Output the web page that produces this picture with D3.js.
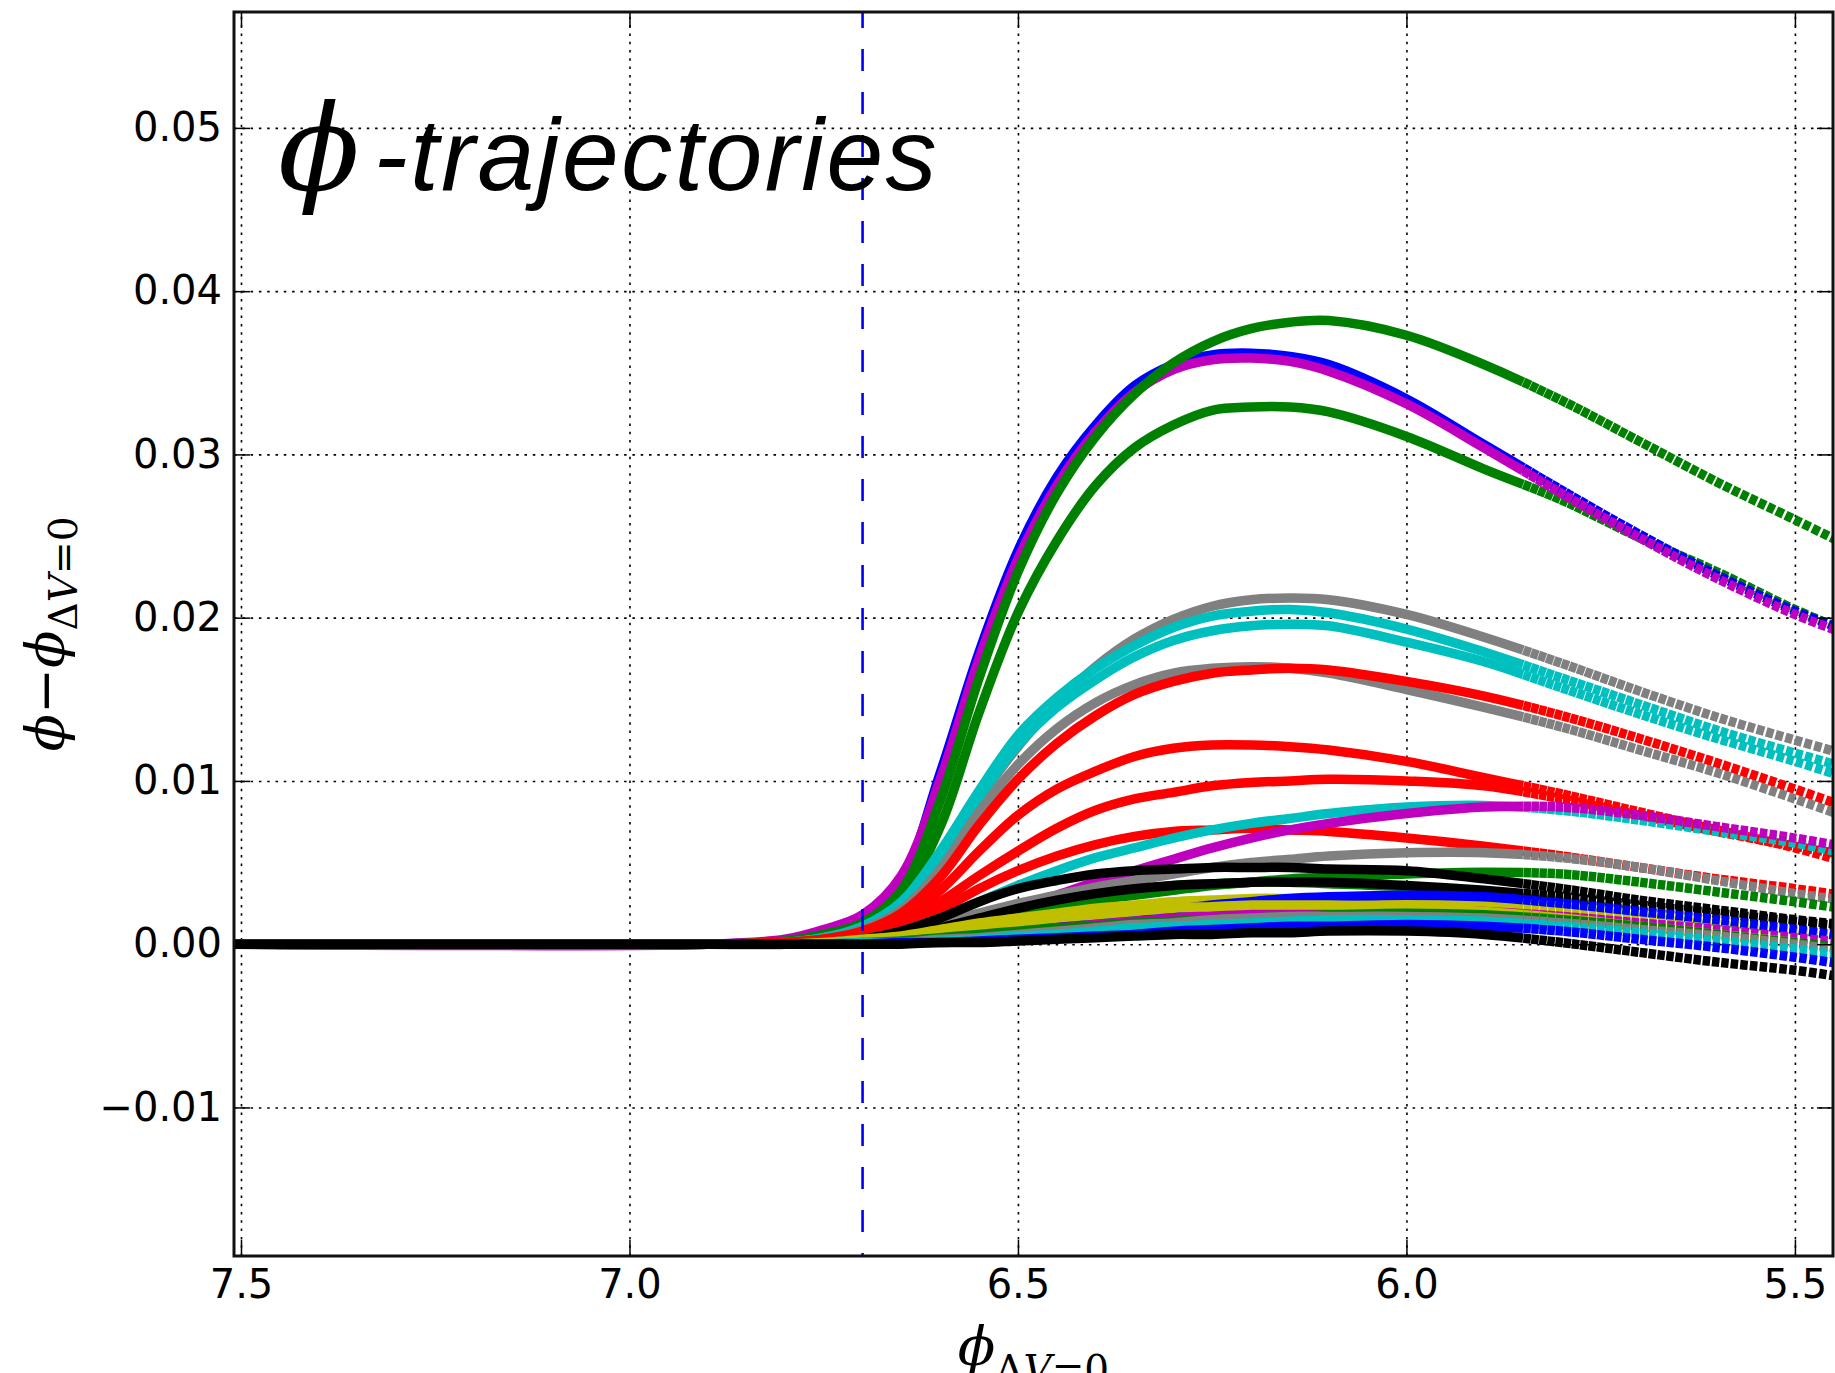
<!DOCTYPE html>
<html>
<head>
<meta charset="utf-8">
<script src="https://cdn.jsdelivr.net/npm/d3@7"></script>
<style>
  html, body { margin: 0; padding: 0; background: #fff; }
  svg { display: block; }
</style>
</head>
<body>
<svg id="chart" width="1835" height="1373"></svg>
<script>
// sample positions along phi_{dV=0} (x runs right to left, 7.5 -> 5.5)
var phiGrid = [7.52, 6.9, 6.8, 6.75, 6.7, 6.65, 6.6, 6.55, 6.5, 6.45, 6.4, 6.35, 6.3, 6.25, 6.2, 6.15, 6.1, 6.0, 5.9, 5.8, 5.7, 5.6, 5.5, 5.44];
var xTicks = [7.5, 7.0, 6.5, 6.0, 5.5];
var yTicks = [-0.01, 0, 0.01, 0.02, 0.03, 0.04, 0.05];
var xDomain = [7.509, 5.451];
var yDomain = [-0.0191, 0.0571];
var crossing = 6.70;
var dottedFrom = 5.85;

// phi - phi_{dV=0} for each trajectory
var green2  = [0, 0, 0.0001, 0.0004, 0.0009, 0.0028, 0.0072, 0.0142, 0.0203, 0.0247, 0.0281, 0.0304, 0.0318, 0.0327, 0.0329, 0.0329, 0.0326, 0.0311, 0.0291, 0.0272, 0.0249, 0.0228, 0.0205, 0.0193];
var blue1   = [0, 0, 0.0002, 0.0007, 0.0016, 0.0039, 0.0105, 0.0179, 0.0241, 0.0286, 0.0318, 0.0342, 0.0355, 0.0361, 0.0362, 0.0360, 0.0355, 0.0334, 0.0306, 0.0278, 0.0251, 0.0226, 0.0204, 0.0193];
var purple1 = [0, 0, 0.0003, 0.0009, 0.0018, 0.0042, 0.0101, 0.0175, 0.0236, 0.0281, 0.0314, 0.0338, 0.0352, 0.0358, 0.0359, 0.0357, 0.0351, 0.0331, 0.0304, 0.0276, 0.0249, 0.0224, 0.0202, 0.0191];
var green1  = [0, 0, 0.0002, 0.0006, 0.0013, 0.0033, 0.0088, 0.0163, 0.0228, 0.0276, 0.0311, 0.0337, 0.0356, 0.0369, 0.0377, 0.0381, 0.0382, 0.0373, 0.0355, 0.0333, 0.0308, 0.0283, 0.0260, 0.0246];
var grey1   = [0, 0, 0.0001, 0.0003, 0.0010, 0.0024, 0.0053, 0.0089, 0.0121, 0.0148, 0.0170, 0.0187, 0.0199, 0.0207, 0.0211, 0.0212, 0.0211, 0.0202, 0.0188, 0.0172, 0.0155, 0.0139, 0.0125, 0.0117];
var cyan1   = [0, 0, 0.0001, 0.0004, 0.0011, 0.0026, 0.0057, 0.0094, 0.0128, 0.0151, 0.0169, 0.0183, 0.0194, 0.0201, 0.0204, 0.0205, 0.0203, 0.0193, 0.0179, 0.0163, 0.0147, 0.0131, 0.0117, 0.0109];
var cyan2   = [0, 0, 0.0001, 0.0004, 0.0010, 0.0025, 0.0054, 0.0090, 0.0122, 0.0145, 0.0162, 0.0176, 0.0186, 0.0192, 0.0195, 0.0196, 0.0195, 0.0185, 0.0173, 0.0157, 0.0141, 0.0126, 0.0112, 0.0103];
var grey2   = [0, 0, 0.0001, 0.0003, 0.0009, 0.0021, 0.0046, 0.0081, 0.0110, 0.0132, 0.0148, 0.0159, 0.0166, 0.0169, 0.0170, 0.0169, 0.0166, 0.0156, 0.0145, 0.0133, 0.0119, 0.0105, 0.0089, 0.0079];
var red1    = [0, 0, 0.0001, 0.0003, 0.0008, 0.0019, 0.0041, 0.0073, 0.0101, 0.0123, 0.0140, 0.0153, 0.0161, 0.0166, 0.0168, 0.0169, 0.0168, 0.0161, 0.0152, 0.0140, 0.0126, 0.0111, 0.0095, 0.0085];
var red2    = [0, 0, 0.0001, 0.0003, 0.0007, 0.0016, 0.0033, 0.0057, 0.0079, 0.0095, 0.0106, 0.0115, 0.0120, 0.0122, 0.0122, 0.0121, 0.0119, 0.0112, 0.0102, 0.0092, 0.0081, 0.0070, 0.0059, 0.0051];
var red3    = [0, 0, 0.0001, 0.0002, 0.0006, 0.0013, 0.0026, 0.0042, 0.0057, 0.0071, 0.0082, 0.0089, 0.0093, 0.0097, 0.0099, 0.0100, 0.0101, 0.0100, 0.0097, 0.0089, 0.0079, 0.0069, 0.0060, 0.0055];
var red4    = [0, 0, 0, 0.0002, 0.0005, 0.0011, 0.0021, 0.0034, 0.0045, 0.0054, 0.0061, 0.0066, 0.0069, 0.0070, 0.0071, 0.0070, 0.0069, 0.0065, 0.0060, 0.0054, 0.0047, 0.0040, 0.0034, 0.0030];
var cyan3   = [0, 0, 0, 0.0001, 0.0003, 0.0008, 0.0016, 0.0026, 0.0036, 0.0045, 0.0053, 0.0059, 0.0065, 0.0070, 0.0074, 0.0077, 0.0080, 0.0084, 0.0085, 0.0082, 0.0076, 0.0069, 0.0062, 0.0056];
var purple3 = [0, 0, 0, 0.0001, 0.0002, 0.0005, 0.0010, 0.0016, 0.0022, 0.0030, 0.0038, 0.0045, 0.0052, 0.0059, 0.0065, 0.0070, 0.0074, 0.0080, 0.0084, 0.0084, 0.0079, 0.0072, 0.0065, 0.0060];
var grey3   = [0, 0, 0, 0.0001, 0.0003, 0.0007, 0.0013, 0.0019, 0.0025, 0.0030, 0.0035, 0.0039, 0.0043, 0.0047, 0.0050, 0.0052, 0.0054, 0.0056, 0.0056, 0.0053, 0.0047, 0.0039, 0.0031, 0.0027];
var green4  = [0, 0, 0, 0.0001, 0.0002, 0.0004, 0.0008, 0.0013, 0.0019, 0.0023, 0.0027, 0.0030, 0.0033, 0.0036, 0.0038, 0.0040, 0.0041, 0.0043, 0.0044, 0.0043, 0.0038, 0.0032, 0.0026, 0.0022];
var green5  = [0, 0, 0, 0.0001, 0.0002, 0.0005, 0.0009, 0.0015, 0.0020, 0.0025, 0.0030, 0.0033, 0.0036, 0.0037, 0.0038, 0.0038, 0.0037, 0.0035, 0.0031, 0.0026, 0.0020, 0.0014, 0.0009, 0.0005];
var black1  = [0, 0, 0, 0.0001, 0.0003, 0.0008, 0.0016, 0.0026, 0.0034, 0.0039, 0.0043, 0.0045, 0.0046, 0.0047, 0.0047, 0.0047, 0.0046, 0.0045, 0.0040, 0.0034, 0.0027, 0.0021, 0.0015, 0.0012];
var black2  = [0, 0, 0, 0.0001, 0.0002, 0.0005, 0.0010, 0.0016, 0.0022, 0.0027, 0.0031, 0.0034, 0.0036, 0.0037, 0.0038, 0.0038, 0.0038, 0.0036, 0.0033, 0.0029, 0.0024, 0.0019, 0.0014, 0.0011];
var yellow1 = [0, 0, 0, 0.0001, 0.0003, 0.0005, 0.0009, 0.0013, 0.0016, 0.0019, 0.0022, 0.0024, 0.0026, 0.0027, 0.0028, 0.0028, 0.0028, 0.0027, 0.0024, 0.0020, 0.0016, 0.0012, 0.0008, 0.0005];
var blue3   = [0, 0, 0, 0, 0.0001, 0.0002, 0.0004, 0.0006, 0.0009, 0.0012, 0.0015, 0.0018, 0.0021, 0.0024, 0.0026, 0.0028, 0.0029, 0.0030, 0.0029, 0.0025, 0.0020, 0.0015, 0.0009, 0.0005];
var purple4 = [0, 0, 0, 0, 0.0001, 0.0002, 0.0003, 0.0005, 0.0007, 0.0010, 0.0012, 0.0014, 0.0016, 0.0018, 0.0019, 0.0020, 0.0021, 0.0021, 0.0020, 0.0017, 0.0013, 0.0009, 0.0004, 0.0001];
var yellow2 = [0, 0, 0, 0.0001, 0.0002, 0.0004, 0.0007, 0.0010, 0.0013, 0.0016, 0.0018, 0.0020, 0.0022, 0.0023, 0.0024, 0.0024, 0.0024, 0.0023, 0.0020, 0.0016, 0.0011, 0.0006, 0.0001, -0.0003];
var green6  = [0, 0, 0, 0, 0.0001, 0.0002, 0.0004, 0.0006, 0.0008, 0.0010, 0.0011, 0.0013, 0.0014, 0.0015, 0.0016, 0.0017, 0.0018, 0.0019, 0.0018, 0.0015, 0.0011, 0.0006, 0.0001, -0.0002];
var grey4   = [0, 0, 0, 0, 0.0001, 0.0001, 0.0003, 0.0004, 0.0006, 0.0008, 0.0010, 0.0012, 0.0013, 0.0015, 0.0016, 0.0017, 0.0017, 0.0017, 0.0016, 0.0013, 0.0009, 0.0005, 0.0000, -0.0004];
var cyan4   = [0, 0, 0, 0, 0.0001, 0.0001, 0.0002, 0.0003, 0.0005, 0.0006, 0.0008, 0.0010, 0.0011, 0.0012, 0.0013, 0.0014, 0.0015, 0.0015, 0.0014, 0.0011, 0.0007, 0.0002, -0.0003, -0.0007];
var blue4   = [0, 0, 0, 0, 0, 0.0001, 0.0001, 0.0002, 0.0003, 0.0004, 0.0005, 0.0006, 0.0008, 0.0009, 0.0010, 0.0011, 0.0011, 0.0012, 0.0011, 0.0008, 0.0003, -0.0002, -0.0008, -0.0012];
var black3  = [0, 0, 0, 0, 0, 0, 0.0001, 0.0001, 0.0002, 0.0003, 0.0004, 0.0005, 0.0006, 0.0006, 0.0007, 0.0007, 0.0008, 0.0008, 0.0006, 0.0001, -0.0005, -0.0011, -0.0016, -0.0020];

var colors = { b: '#0000ff', g: '#008000', r: '#ff0000', c: '#00bfbf', m: '#bf00bf', y: '#bfbf00', k: '#000000', grey: '#808080' };

// drawing order: later entries sit on top
var series = [
    { color: colors.g, values: green2 },
    { color: colors.b, values: blue1 },
    { color: colors.m, values: purple1 },
    { color: colors.g, values: green1 },
    { color: colors.grey, values: grey1 },
    { color: colors.c, values: cyan1 },
    { color: colors.c, values: cyan2 },
    { color: colors.grey, values: grey2 },
    { color: colors.r, values: red1 },
    { color: colors.r, values: red2 },
    { color: colors.r, values: red3 },
    { color: colors.r, values: red4 },
    { color: colors.c, values: cyan3 },
    { color: colors.m, values: purple3 },
    { color: colors.grey, values: grey3 },
    { color: colors.g, values: green4 },
    { color: colors.g, values: green5 },
    { color: colors.k, values: black1 },
    { color: colors.k, values: black2 },
    { color: colors.y, values: yellow1 },
    { color: colors.b, values: blue3 },
    { color: colors.m, values: purple4 },
    { color: colors.y, values: yellow2 },
    { color: colors.g, values: green6 },
    { color: colors.grey, values: grey4 },
    { color: colors.c, values: cyan4 },
    { color: colors.b, values: blue4 },
    { color: colors.k, values: black3 }
];

var svg = d3.select('#chart');
var plotLeft = 234, plotRight = 1833, plotTop = 12, plotBottom = 1256;

var x = d3.scaleLinear().domain(xDomain).range([plotLeft, plotRight]);
var y = d3.scaleLinear().domain(yDomain).range([plotBottom, plotTop]);

svg.append('rect').attr('width', 1835).attr('height', 1373).attr('fill', '#fff');

svg.append('defs').append('clipPath').attr('id', 'plot')
    .append('rect')
    .attr('x', plotLeft).attr('y', plotTop)
    .attr('width', plotRight - plotLeft).attr('height', plotBottom - plotTop);

// dotted grid
svg.append('g')
    .attr('transform', 'translate(0,' + plotBottom + ')')
    .call(d3.axisBottom(x).tickValues(xTicks).tickSize(-(plotBottom - plotTop)).tickFormat(''))
    .call(function(g) { g.select('.domain').remove(); })
    .selectAll('line')
    .attr('stroke', '#000').attr('stroke-width', 1.6).attr('stroke-dasharray', '2.5,5.8');

svg.append('g')
    .attr('transform', 'translate(' + plotLeft + ',0)')
    .call(d3.axisLeft(y).tickValues(yTicks).tickSize(-(plotRight - plotLeft)).tickFormat(''))
    .call(function(g) { g.select('.domain').remove(); })
    .selectAll('line')
    .attr('stroke', '#000').attr('stroke-width', 1.6).attr('stroke-dasharray', '2.5,5.8');

var line = d3.line()
    .x(function(d, i) { return x(phiGrid[i]); })
    .y(function(d) { return y(d); })
    .curve(d3.curveCatmullRom.alpha(0.5));

var paths = svg.append('g')
    .attr('clip-path', 'url(#plot)')
    .selectAll('path')
    .data(series)
    .enter().append('path')
    .attr('d', function(s) { return line(s.values); })
    .attr('fill', 'none')
    .attr('stroke', function(s) { return s.color; })
    .attr('stroke-width', 9.5)
    .attr('stroke-linejoin', 'round');

// the tails were plotted as markers: open small gaps that widen toward the right
paths.each(function() {
    var node = this, total = node.getTotalLength();
    var xStart = x(dottedFrom), lo = 0, hi = total;
    for (var k = 0; k < 30; k++) {
        var mid = (lo + hi) / 2;
        if (node.getPointAtLength(mid).x < xStart) lo = mid; else hi = mid;
    }
    var pattern = [lo], d = lo;
    while (d < total) {
        var f = Math.min(1, (node.getPointAtLength(d).x - xStart) / (plotRight - xStart));
        var gap = 0.4 + 2.4 * f;
        pattern.push(gap, 7.5);
        d += gap + 7.5;
    }
    pattern.push(0);
    d3.select(node).attr('stroke-dasharray', pattern.join(','));
});

// dashed marker where the trajectories leave zero
svg.append('line')
    .attr('x1', x(crossing)).attr('x2', x(crossing))
    .attr('y1', y(yDomain[1])).attr('y2', y(yDomain[0]))
    .attr('stroke', '#0000ff')
    .attr('stroke-width', 2.6)
    .attr('stroke-dasharray', '22,21')
    .attr('stroke-dashoffset', 6);

// inward ticks on all four sides
function styleAxis(g) {
    g.select('.domain').remove();
    g.selectAll('line').attr('stroke', '#000').attr('stroke-width', 1.5);
    g.selectAll('text')
        .attr('font-family', '"DejaVu Sans", sans-serif')
        .attr('font-size', 40)
        .attr('fill', '#000');
}

svg.append('g')
    .attr('transform', 'translate(' + plotLeft + ',0)')
    .call(d3.axisLeft(y).tickValues(yTicks).tickSize(-16).tickPadding(12).tickFormat(d3.format('.2f')))
    .call(styleAxis);

svg.append('g')
    .attr('transform', 'translate(' + plotRight + ',0)')
    .call(d3.axisRight(y).tickValues(yTicks).tickSize(-16).tickFormat(''))
    .call(styleAxis);

svg.append('g')
    .attr('transform', 'translate(0,' + plotBottom + ')')
    .call(d3.axisBottom(x).tickValues(xTicks).tickSize(-16).tickPadding(14).tickFormat(d3.format('.1f')))
    .call(styleAxis);

svg.append('g')
    .attr('transform', 'translate(0,' + plotTop + ')')
    .call(d3.axisTop(x).tickValues(xTicks).tickSize(-16).tickFormat(''))
    .call(styleAxis);

svg.append('rect')
    .attr('x', plotLeft).attr('y', plotTop)
    .attr('width', plotRight - plotLeft).attr('height', plotBottom - plotTop)
    .attr('fill', 'none')
    .attr('stroke', '#111')
    .attr('stroke-width', 3);

// title inside the axes
var title = svg.append('text')
    .attr('x', 278).attr('y', 190)
    .attr('fill', '#000');
title.append('tspan')
    .attr('font-family', '"DejaVu Serif", serif')
    .attr('font-style', 'italic')
    .attr('font-size', 120)
    .text('\u03d5');
title.append('tspan')
    .attr('font-family', '"Liberation Sans", Arial, sans-serif')
    .attr('font-style', 'italic')
    .attr('font-size', 102)
    .attr('letter-spacing', 2.5)
    .attr('dx', 14)
    .text('-trajectories');

// axis labels
var mathFont = '"DejaVu Serif", serif';

var ylab = svg.append('text')
    .attr('transform', 'translate(64,' + ((plotTop + plotBottom) / 2) + ') rotate(-90)')
    .attr('text-anchor', 'middle')
    .attr('font-family', mathFont)
    .attr('font-size', 55)
    .attr('fill', '#000');
ylab.append('tspan').attr('font-style', 'italic').text('\u03d5');
ylab.append('tspan').text('\u2212');
ylab.append('tspan').attr('font-style', 'italic').text('\u03d5');
ylab.append('tspan').attr('font-size', 39).attr('dy', 13).text('\u0394');
ylab.append('tspan').attr('font-size', 39).attr('font-style', 'italic').text('V');
ylab.append('tspan').attr('font-size', 39).text('=0');

var xlab = svg.append('text')
    .attr('x', (plotLeft + plotRight) / 2).attr('y', 1365)
    .attr('text-anchor', 'middle')
    .attr('font-family', mathFont)
    .attr('font-size', 55)
    .attr('fill', '#000');
xlab.append('tspan').attr('font-style', 'italic').text('\u03d5');
xlab.append('tspan').attr('font-size', 39).attr('dy', 18).text('\u0394');
xlab.append('tspan').attr('font-size', 39).attr('font-style', 'italic').text('V');
xlab.append('tspan').attr('font-size', 39).text('=0');
</script>
</body>
</html>
